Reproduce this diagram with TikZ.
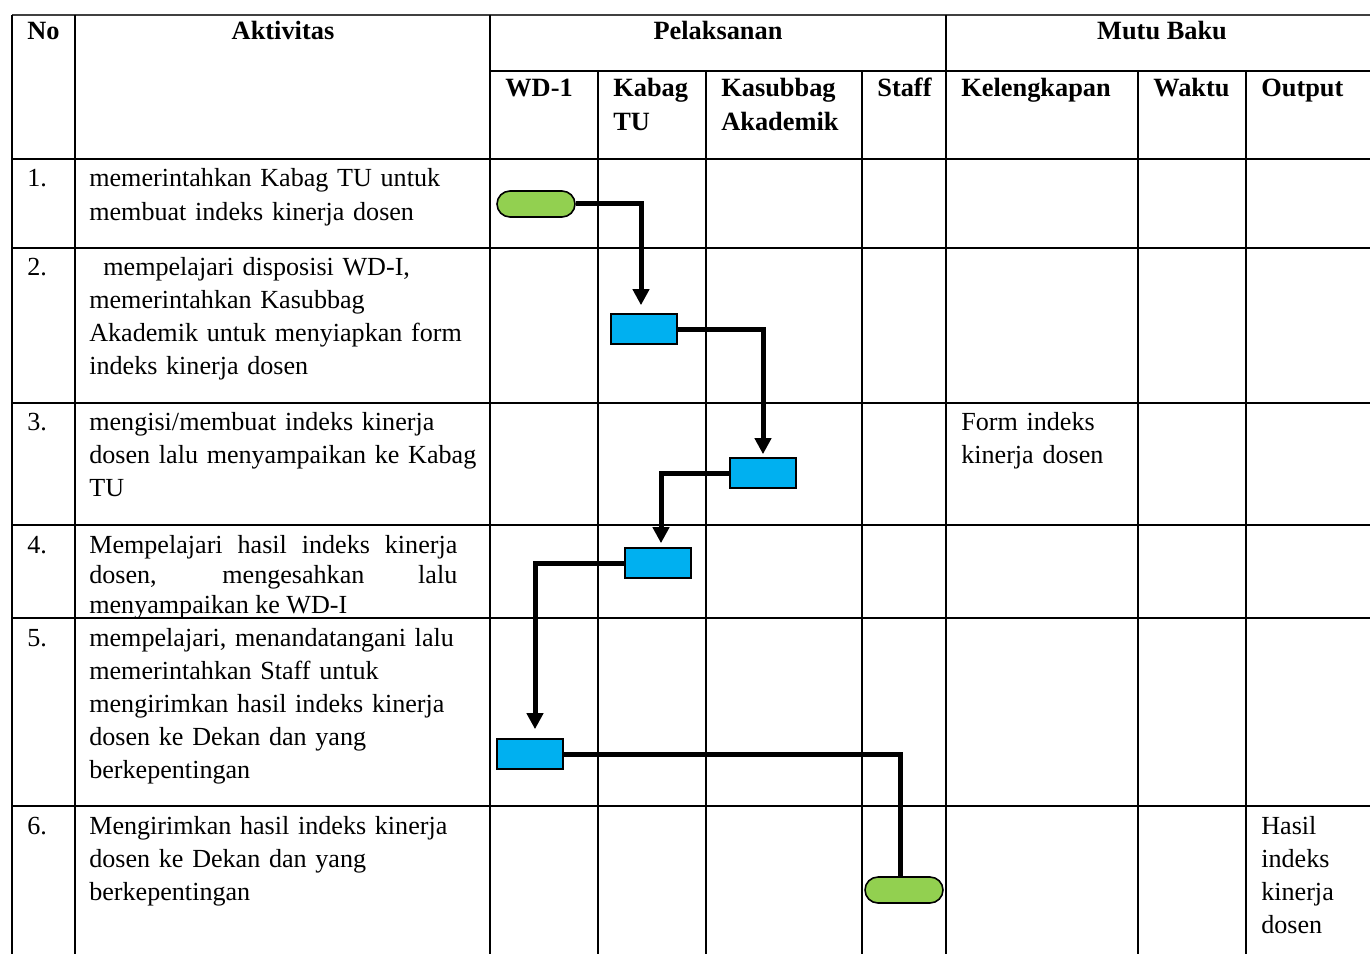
\documentclass[tikz,border=0pt]{standalone}
\usepackage{fontspec}
\setmainfont{Liberation Serif}
\usetikzlibrary{arrows.meta}
\definecolor{hijau}{HTML}{92D050}
\definecolor{biru}{HTML}{00B0F0}
\tikzset{
  terminal/.style={draw, line width=0.9pt, fill=hijau, rounded corners=2.6mm,
    minimum width=15.6mm, minimum height=5.2mm, inner sep=0pt},
  proses/.style={draw, line width=0.9pt, fill=biru,
    minimum width=13.2mm, minimum height=6mm, inner sep=0pt},
  alur/.style={line width=1mm, -{Triangle[width=3.2mm,length=3.2mm]}},
  garis/.style={line width=1mm},
  isi/.style={anchor=base west, inner sep=0pt, text width=85mm, align=left,
    font=\fontsize{14.85}{18.8}\selectfont},
  judul/.style={anchor=base west, inner sep=0pt, text width=40mm, align=left,
    font=\fontsize{15}{18.8}\selectfont\bfseries},
  judultengah/.style={anchor=base, inner sep=0pt, font=\fontsize{15}{18.8}\selectfont\bfseries},
}
\begin{document}
\begin{tikzpicture}[x=0.2mm, y=-0.2mm]
        \useasboundingbox (0,0) rectangle (1370,954);
        \draw[line width=1.2pt, black!75] (12,15) -- (1370,15);
        \draw[line width=0.8pt] (490,71) -- (1370,71);
        \foreach \y in {159,248,403,525,618,806}
            \draw[line width=0.8pt] (12,\y) -- (1370,\y);
        \foreach \x in {12,75,490,946}
            \draw[line width=0.8pt] (\x,15) -- (\x,954);
        \foreach \x in {598,706,862,1138,1246}
            \draw[line width=0.8pt] (\x,71) -- (\x,954);

        \node[judul] (hNo) at (27,40) {No};
        \node[judultengah] (hAkt) at (283,40) {Aktivitas};
        \node[judultengah] (hPel) at (718,40) {Pelaksanan};
        \node[judultengah] (hMutu) at (1162,40) {Mutu Baku};
        \node[judul] (hWD) at (505,97) {WD-1};
        \node[judul] (hKabag) at (613,97) {Kabag\\TU};
        \node[judul] (hKasub) at (721,97) {Kasubbag\\Akademik};
        \node[judul] (hStaff) at (877,97) {Staff};
        \node[judul] (hLengkap) at (961,97) {Kelengkapan};
        \node[judul] (hWaktu) at (1153,97) {Waktu};
        \node[judul] (hOutput) at (1261,97) {Output};

        \node[isi] (no1) at (27,187) {1.};
        \node[isi] (no2) at (27,275) {2.};
        \node[isi] (no3) at (27,430) {3.};
        \node[isi] (no4) at (27,553) {4.};
        \node[isi] (no5) at (27,646) {5.};
        \node[isi] (no6) at (27,834) {6.};

        \node[isi] (akt1) at (89,187) {memerintahkan Kabag TU untuk\\membuat indeks kinerja dosen};
        \node[isi] (akt2) at (89,275) {\hspace*{8pt}mempelajari disposisi WD-I,\\memerintahkan Kasubbag\\Akademik untuk menyiapkan form\\indeks kinerja dosen};
        \node[isi] (akt3) at (89,430) {mengisi/membuat indeks kinerja\\dosen lalu menyampaikan ke Kabag\\TU};
        \node[isi, text width=73.6mm, align=justify, font=\fontsize{14.85}{17.3}\selectfont] (akt4) at (89,553)
            {Mempelajari hasil indeks kinerja\linebreak dosen, mengesahkan lalu\linebreak menyampaikan ke WD-I};
        \node[isi] (akt5) at (89,646) {mempelajari, menandatangani lalu\\memerintahkan Staff untuk\\mengirimkan hasil indeks kinerja\\dosen ke Dekan dan yang\\berkepentingan};
        \node[isi] (akt6) at (89,834) {Mengirimkan hasil indeks kinerja\\dosen ke Dekan dan yang\\berkepentingan};
        \node[isi] (lengkap3) at (961,430) {Form indeks\\kinerja dosen};
        \node[isi] (output6) at (1261,834) {Hasil\\indeks\\kinerja\\dosen};

        \node[terminal] (mulai) at (536,204) {};
        \node[proses] (p1) at (644,329) {};
        \node[proses] (p2) at (763,473) {};
        \node[proses] (p3) at (658,563) {};
        \node[proses] (p4) at (530,754) {};
        \node[terminal] (selesai) at (904,890) {};

        \draw[alur, shorten >=1.6mm] (mulai.east) -| ([xshift=-0.6mm]p1.north);
        \draw[alur, shorten >=0.6mm] (p1.east) -| (p2.north);
        \draw[alur, shorten >=0.8mm] (p2.west) -| ([xshift=0.6mm]p3.north);
        \draw[alur, shorten >=1.8mm] (p3.west) -| ([xshift=1mm]p4.north);
        \draw[garis] (p4.east) -| ([xshift=-0.8mm]selesai.north);
    \end{tikzpicture}
\end{document}
